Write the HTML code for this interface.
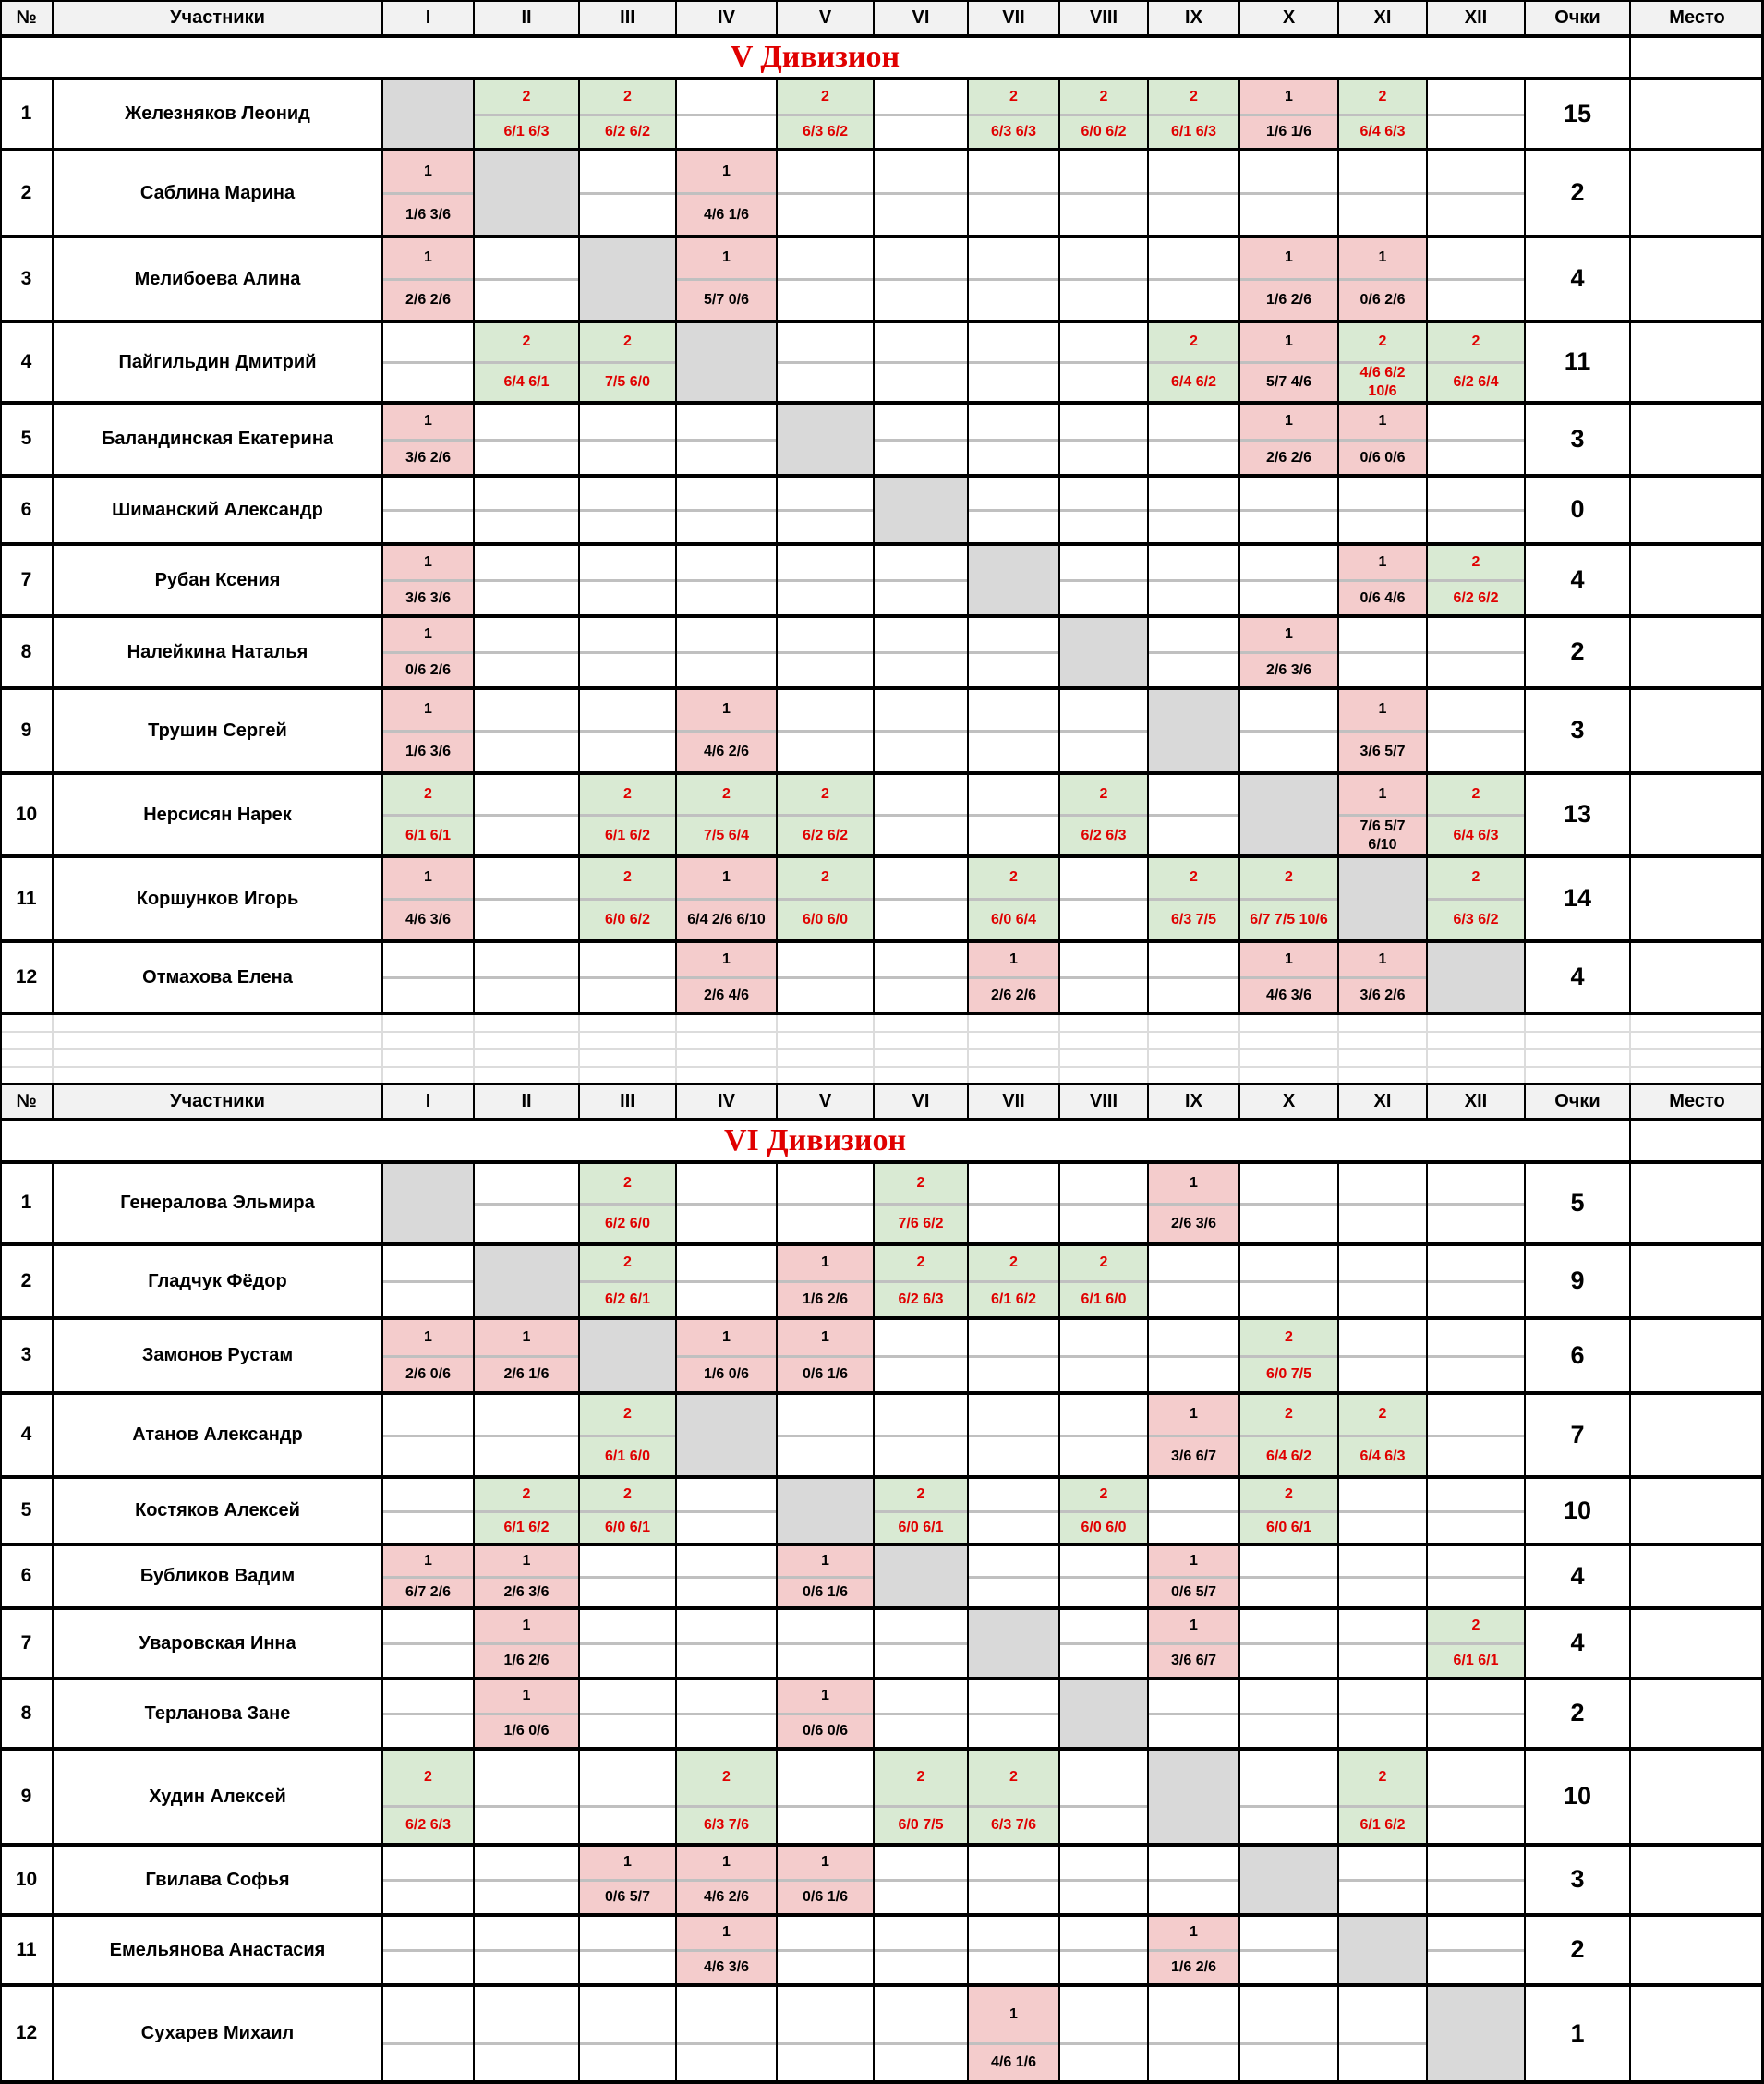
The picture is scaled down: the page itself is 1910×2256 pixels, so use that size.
<!DOCTYPE html>
<html><head><meta charset="utf-8">
<style>
body{margin:0;width:1910px;height:2254px;background:#fff;position:relative;overflow:hidden;font-family:"Liberation Sans Narrow","Liberation Sans",sans-serif;font-weight:bold;}
.c{position:absolute;box-sizing:border-box;display:flex;align-items:center;justify-content:center;text-align:center;line-height:1.25;white-space:pre-line;}
.hl{position:absolute;background:#000;}
.gl{position:absolute;background:#c0c0c0;}
.ll{position:absolute;background:#dcdcdc;}
</style></head><body>
<script>
const colX=[0,57,414,513,627,732,841,946,1048,1147,1243,1342,1449,1545,1651,1765,1910];
const headLabels=["№","Участники","I","II","III","IV","V","VI","VII","VIII","IX","X","XI","XII","Очки","Место"];
const rowsV=[85,162,256,348,436,515,589,667,745,837,927,1019,1097];
const rowsVI=[1258,1347,1427,1508,1599,1672,1741,1817,1893,1997,2073,2149,2254];
const namesV=["Железняков Леонид","Саблина Марина","Мелибоева Алина","Пайгильдин Дмитрий","Баландинская Екатерина","Шиманский Александр","Рубан Ксения","Налейкина Наталья","Трушин Сергей","Нерсисян Нарек","Коршунков Игорь","Отмахова Елена"];
const pointsV=[15,2,4,11,3,0,4,2,3,13,14,4];
const resultsV=[
{2:[2,"6/1 6/3"],3:[2,"6/2 6/2"],5:[2,"6/3 6/2"],7:[2,"6/3 6/3"],8:[2,"6/0 6/2"],9:[2,"6/1 6/3"],10:[1,"1/6 1/6"],11:[2,"6/4 6/3"]},
{1:[1,"1/6 3/6"],4:[1,"4/6 1/6"]},
{1:[1,"2/6 2/6"],4:[1,"5/7 0/6"],10:[1,"1/6 2/6"],11:[1,"0/6 2/6"]},
{2:[2,"6/4 6/1"],3:[2,"7/5 6/0"],9:[2,"6/4 6/2"],10:[1,"5/7 4/6"],11:[2,"4/6 6/2\n10/6"],12:[2,"6/2 6/4"]},
{1:[1,"3/6 2/6"],10:[1,"2/6 2/6"],11:[1,"0/6 0/6"]},
{},
{1:[1,"3/6 3/6"],11:[1,"0/6 4/6"],12:[2,"6/2 6/2"]},
{1:[1,"0/6 2/6"],10:[1,"2/6 3/6"]},
{1:[1,"1/6 3/6"],4:[1,"4/6 2/6"],11:[1,"3/6 5/7"]},
{1:[2,"6/1 6/1"],3:[2,"6/1 6/2"],4:[2,"7/5 6/4"],5:[2,"6/2 6/2"],8:[2,"6/2 6/3"],11:[1,"7/6 5/7\n6/10"],12:[2,"6/4 6/3"]},
{1:[1,"4/6 3/6"],3:[2,"6/0 6/2"],4:[1,"6/4 2/6 6/10"],5:[2,"6/0 6/0"],7:[2,"6/0 6/4"],9:[2,"6/3 7/5"],10:[2,"6/7 7/5 10/6"],12:[2,"6/3 6/2"]},
{4:[1,"2/6 4/6"],7:[1,"2/6 2/6"],10:[1,"4/6 3/6"],11:[1,"3/6 2/6"]}
];
const namesVI=["Генералова Эльмира","Гладчук Фёдор","Замонов Рустам","Атанов Александр","Костяков Алексей","Бубликов Вадим","Уваровская Инна","Терланова Зане","Худин Алексей","Гвилава Софья","Емельянова Анастасия","Сухарев Михаил"];
const pointsVI=[5,9,6,7,10,4,4,2,10,3,2,1];
const resultsVI=[
{3:[2,"6/2 6/0"],6:[2,"7/6 6/2"],9:[1,"2/6 3/6"]},
{3:[2,"6/2 6/1"],5:[1,"1/6 2/6"],6:[2,"6/2 6/3"],7:[2,"6/1 6/2"],8:[2,"6/1 6/0"]},
{1:[1,"2/6 0/6"],2:[1,"2/6 1/6"],4:[1,"1/6 0/6"],5:[1,"0/6 1/6"],10:[2,"6/0 7/5"]},
{3:[2,"6/1 6/0"],9:[1,"3/6 6/7"],10:[2,"6/4 6/2"],11:[2,"6/4 6/3"]},
{2:[2,"6/1 6/2"],3:[2,"6/0 6/1"],6:[2,"6/0 6/1"],8:[2,"6/0 6/0"],10:[2,"6/0 6/1"]},
{1:[1,"6/7 2/6"],2:[1,"2/6 3/6"],5:[1,"0/6 1/6"],9:[1,"0/6 5/7"]},
{2:[1,"1/6 2/6"],9:[1,"3/6 6/7"],12:[2,"6/1 6/1"]},
{2:[1,"1/6 0/6"],5:[1,"0/6 0/6"]},
{1:[2,"6/2 6/3"],4:[2,"6/3 7/6"],6:[2,"6/0 7/5"],7:[2,"6/3 7/6"],11:[2,"6/1 6/2"]},
{3:[1,"0/6 5/7"],4:[1,"4/6 2/6"],5:[1,"0/6 1/6"]},
{4:[1,"4/6 3/6"],9:[1,"1/6 2/6"]},
{7:[1,"4/6 1/6"]}
];
const splitVI=[0.5,0.5,0.5,0.5,0.5,0.5,0.5,0.5,0.6,0.5,0.5,0.6];

function box(x,y,w,h,cls,txt,style){const d=document.createElement('div');d.className=cls;d.style.cssText=`left:${x}px;top:${y}px;width:${w}px;height:${h}px;`+(style||'');if(txt!==undefined)d.textContent=txt;document.body.appendChild(d);return d;}

function header(y,h){
  box(0,y,1910,h,'c','','background:#f2f2f2;');
  for(let i=0;i<16;i++){
    const d=box(colX[i],y,colX[i+1]-colX[i],h,'c',headLabels[i],'font-size:20px;');
    
    
  }
}
function title(y,h,t){
  const d=box(0,y,1765,h,'c',t,'font-family:"Liberation Serif",serif;color:#e00000;font-size:34px;');
  
  
}
function division(rows,names,points,results,splits){
  for(let r=0;r<12;r++){
    const y=rows[r],h=rows[r+1]-rows[r];
    const sp=splits?splits[r]:0.5;const th=Math.round(h*sp);
    let d=box(colX[0],y,colX[1],h,'c',String(r+1),'font-size:21px;');
    
    
    d=box(colX[1],y,colX[2]-colX[1],h,'c',names[r],'font-size:20px;');
    
    
    for(let c=1;c<=12;c++){
      const x=colX[c+1],w=colX[c+2]-x;
      if(c===r+1){const g=box(x,y,w,h,'c','','background:#d9d9d9;');
        
        continue;}
      const res=results[r][c];
      if(res){
        const win=res[0]===2;
        const bg=win?'#d9ead3':'#f4cccc';const col=win?'#e00000':'#000';
        box(x,y,w,h,'c','','background:'+bg+';');
        let s=box(x,y,w,th,'c',String(res[0]),'font-size:16px;color:'+col+';');
        
        
        s=box(x+2,y+th,w-4,h-th,'c',res[1],'font-size:16px;color:'+col+';');
        
        
      }
      box(x,y+th-1,w,3,'gl');
    }
    d=box(colX[14],y,colX[15]-colX[14],h,'c',String(points[r]),'font-size:27px;');
    
    
    d=box(colX[15],y,colX[16]-colX[15],h,'c','','');
    
    
  }
}
function vlines(y0,y1){for(let i=1;i<16;i++)box(colX[i]-1,y0,2,y1-y0,'hl');}
function hline(y,t){box(0,y-Math.floor(t/2),1910,t,'hl');}

header(0,39);title(39,46,'V Дивизион');
division(rowsV,namesV,pointsV,resultsV,null);
header(1173,39);title(1212,46,'VI Дивизион');
division(rowsVI,namesVI,pointsVI,resultsVI,splitVI);
box(0,1116,1910,2,'ll');box(0,1135,1910,2,'ll');box(0,1154,1910,2,'ll');
for(let i=1;i<16;i++)box(colX[i]-1,1097,2,76,'ll');
vlines(0,39);vlines(85,1097);vlines(1173,1212);vlines(1258,2254);
box(1764,39,2,46,'hl');box(1764,1212,2,46,'hl');
box(0,0,2,2254,'hl');box(1907,0,3,2254,'hl');
hline(1,2);hline(39,4);hline(85,4);rowsV.forEach(y=>hline(y,4));
hline(1173,3);hline(1212,4);hline(1258,4);rowsVI.forEach(y=>hline(y,4));
</script>
</body></html>
